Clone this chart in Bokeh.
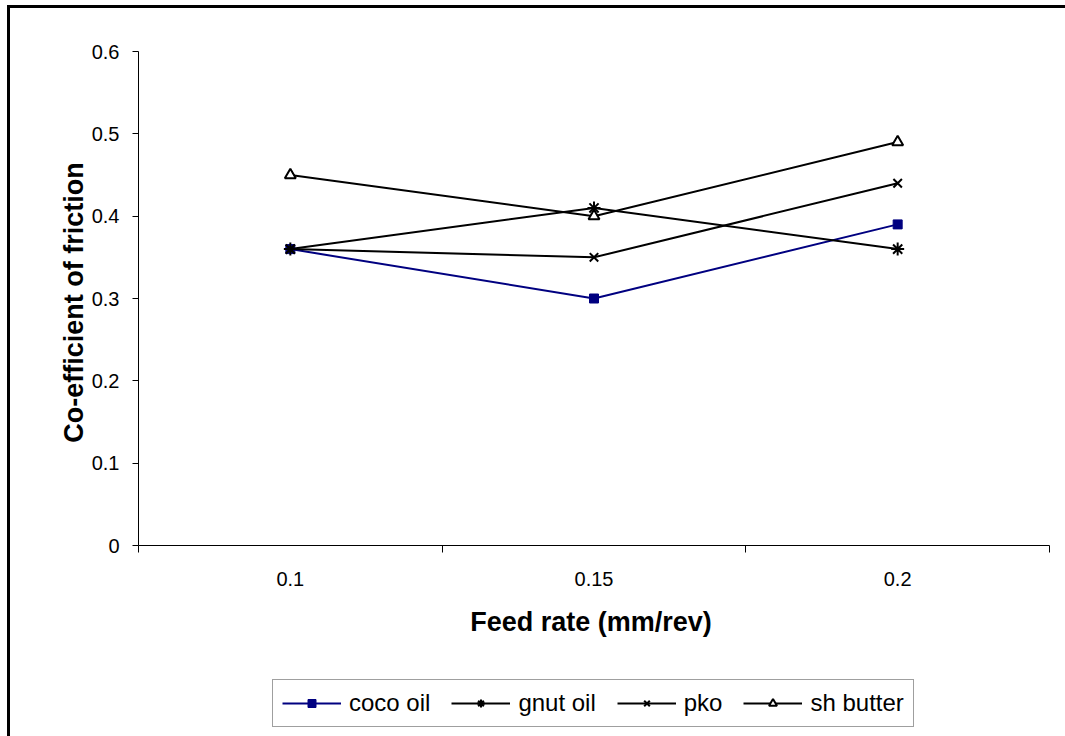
from math import pi
from bokeh.plotting import figure
from bokeh.embed import file_html
from bokeh.resources import INLINE
from bokeh.models import (FixedTicker, CustomJSTickFormatter, LinearAxis,
                          Legend, LegendItem, Range1d, Label)

# ---- data ----
feed_rates = ["0.1", "0.15", "0.2"]
coco_oil = [0.36, 0.30, 0.39]
gnut_oil = [0.36, 0.41, 0.36]
pko = [0.36, 0.35, 0.44]
sh_butter = [0.45, 0.40, 0.49]
y_ticks = [0, 0.1, 0.2, 0.3, 0.4, 0.5, 0.6]
x_title = "Feed rate (mm/rev)"
y_title = "Co-efficient of friction"

FONT = "Liberation Sans"

# ---- layout (pixels) ----
W, H = 1065, 736
PL, PR, PT, PB = 138, 1049, 51, 545      # plot area edges inside the canvas
n = len(feed_rates)
y_lo, y_hi = y_ticks[0], y_ticks[-1]

# the frame fills the whole canvas; axes are pinned at the plot-area edges
px_x = (PR - PL) / n
px_y = (PB - PT) / (y_hi - y_lo)
x_range = Range1d(-PL / px_x, n + (W - PR) / px_x)
y_range = Range1d(y_lo - (H - PB) / px_y, y_hi + PT / px_y)

# category centres on a numeric axis (Excel-like: ticks between categories)
xs = [i + 0.5 for i in range(n)]

p = figure(width=W, height=H, output_backend="svg", toolbar_location=None,
           x_range=x_range, y_range=y_range, x_axis_type=None, y_axis_type=None,
           min_border=0)
p.outline_line_color = None
p.xgrid.visible = False
p.ygrid.visible = False
p.background_fill_color = None
p.border_fill_color = None
# chart-area border: only its top and left edges fall inside the window
p.styles = {"box-shadow": "inset 7px 5px 0 0 white, inset 10px 8px 0 0 black",
            "background-color": "white"}

# x axis
xa = LinearAxis(fixed_location=y_lo, bounds=(0, n))
xa.ticker = FixedTicker(ticks=xs, minor_ticks=list(range(n + 1)))
xa.formatter = CustomJSTickFormatter(args=dict(labels=feed_rates),
                                     code="return labels[Math.floor(tick)];")
xa.major_tick_out = 0
xa.major_tick_in = 0
xa.minor_tick_out = 7
xa.minor_tick_in = 0
xa.minor_tick_line_color = "black"
xa.axis_line_color = "black"
xa.major_label_text_font = FONT
xa.major_label_text_font_size = "20px"
xa.major_label_text_color = "black"
xa.major_label_standoff = 19
p.add_layout(xa, "below")

# y axis
ya = LinearAxis(fixed_location=0, bounds=(y_lo, y_hi))
ya.ticker = FixedTicker(ticks=y_ticks, minor_ticks=[])
ya.formatter = CustomJSTickFormatter(code="return tick == 0 ? '0' : tick.toFixed(1);")
ya.major_tick_out = 6
ya.major_tick_in = 0
ya.major_tick_line_color = "black"
ya.axis_line_color = "black"
ya.major_label_text_font = FONT
ya.major_label_text_font_size = "20px"
ya.major_label_text_color = "black"
ya.major_label_standoff = 13
p.add_layout(ya, "left")

# axis titles
p.add_layout(Label(x=1.49, y=y_lo - 76 / px_y, text=x_title,
                   text_font=FONT, text_font_size="27px", text_font_style="bold",
                   text_color="black", text_align="center",
                   text_baseline="middle"))
p.add_layout(Label(x=-65 / px_x, y=(y_lo + y_hi) / 2 - 4 / px_y, text=y_title,
                   angle=pi / 2, text_font=FONT, text_font_size="27px",
                   text_font_style="bold", text_color="black",
                   text_align="center", text_baseline="middle"))

# series
l1 = p.line(xs, coco_oil, line_color="#000080", line_width=2)
s1 = p.scatter(xs, coco_oil, marker="square", size=9, fill_color="#000080",
               line_color="#000080")
l2 = p.line(xs, gnut_oil, line_color="black", line_width=2)
s2 = p.scatter(xs, gnut_oil, marker="asterisk", size=13, line_color="black",
               line_width=2)
l3 = p.line(xs, pko, line_color="black", line_width=2)
s3 = p.scatter(xs, pko, marker="x", size=12, line_color="black", line_width=2)
l4 = p.line(xs, sh_butter, line_color="black", line_width=2)
s4 = p.scatter(xs, sh_butter, marker="triangle", size=11, fill_color="white",
               line_color="black", line_width=2)

legend = Legend(items=[
    LegendItem(label="coco oil", renderers=[l1, s1]),
    LegendItem(label="gnut oil", renderers=[l2, s2]),
    LegendItem(label="pko", renderers=[l3, s3]),
    LegendItem(label="sh butter", renderers=[l4, s4]),
], orientation="horizontal", location=(272, 9))
legend.label_text_font = FONT
legend.label_text_font_size = "24px"
legend.label_text_color = "black"
legend.glyph_width = 59
legend.glyph_height = 20
legend.label_height = 26
legend.label_standoff = 8
legend.spacing = 21
legend.padding = 9
legend.margin = 0
legend.border_line_color = "#404040"
legend.border_line_width = 1
legend.background_fill_color = "white"
legend.background_fill_alpha = 1
p.add_layout(legend)

open("out.html", "w").write(file_html(p, INLINE))
